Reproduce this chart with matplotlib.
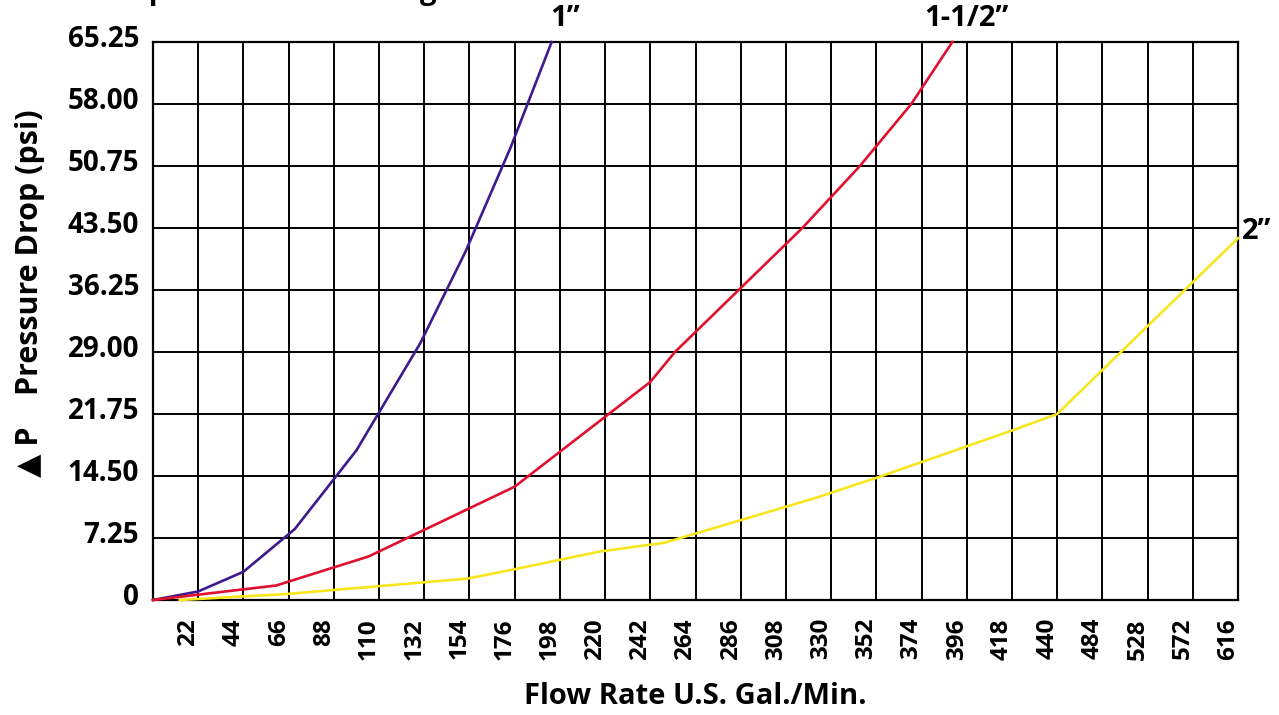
import numpy as np
import matplotlib
matplotlib.use("Agg")
import matplotlib.pyplot as plt
from matplotlib.transforms import ScaledTranslation

# ---- data ----
x_ticks = [22, 44, 66, 88, 110, 132, 154, 176, 198, 220, 242, 264, 286, 308,
           330, 352, 374, 396, 418, 440, 484, 528, 572, 616]
y_ticks = [0, 7.25, 14.50, 21.75, 29.00, 36.25, 43.50, 50.75, 58.00, 65.25]
y_ticklabels = ["0", "7.25", "14.50", "21.75", "29.00", "36.25", "43.50",
                "50.75", "58.00", "65.25"]

flow_1in = [0, 22, 44, 69, 99, 130, 152, 174, 194]
psi_1in = [0, 1.0, 3.3, 8.3, 17.5, 30.0, 40.7, 52.9, 65.25]

flow_15in = [0, 60, 105, 176, 242, 254, 285, 316, 344, 369, 389]
psi_15in = [0, 1.7, 5.1, 13.25, 25.5, 29.0, 36.25, 43.5, 50.75, 58.0, 65.25]

flow_2in = [13, 65, 153, 176, 217, 249, 322, 351, 419, 440, 616]
psi_2in = [0, 0.7, 2.5, 3.6, 5.65, 6.7, 11.9, 14.2, 19.9, 21.75, 42.3]

series_labels = ["1\u201d", "1-1/2\u201d", "2\u201d"]
colors = ["#3d1a8e", "#e0102e", "#f7e61e"]

# ---- axis scale: equal spacing per gridline (22 up to 440, then 44) ----
scale_src = [0, 440, 616]
scale_dst = [0, 20, 24]

def fwd(x):
    return np.interp(x, scale_src, scale_dst)

def inv(p):
    return np.interp(p, scale_dst, scale_src)

FONT = ["Open Sans", "DejaVu Sans"]
plt.rcParams["font.family"] = FONT

W, H = 1279, 715
fig = plt.figure(figsize=(W / 100, H / 100), dpi=100)
ax = fig.add_axes([153 / W, 1 - 600 / H, (1238 - 153) / W, (600 - 42) / H])

ax.set_xscale("function", functions=(fwd, inv))
ax.set_xlim(0, 616)
ax.set_ylim(0, 65.25)

ax.plot(flow_1in, psi_1in, color=colors[0], lw=1.9, zorder=3, clip_on=False)
ax.plot(flow_15in, psi_15in, color=colors[1], lw=1.9, zorder=3, clip_on=False)
ax.plot(flow_2in, psi_2in, color=colors[2], lw=1.9, zorder=3, clip_on=False)

ax.set_xticks(x_ticks)
ax.set_xticklabels([str(v) for v in x_ticks], rotation=90, fontsize=17.5,
                   fontweight="bold", va="top")
ax.set_yticks(y_ticks)
ax.set_yticklabels(y_ticklabels, fontsize=20, fontweight="bold")
ax.tick_params(axis="both", length=0)
ax.tick_params(axis="x", pad=13)
ax.tick_params(axis="y", pad=10)

for lab in ax.get_xticklabels():
    lab.set_transform(lab.get_transform() + ScaledTranslation(-10 / 100, 0, fig.dpi_scale_trans))
for lab in ax.get_yticklabels():
    lab.set_transform(lab.get_transform() + ScaledTranslation(0, 6 / 100, fig.dpi_scale_trans))

ax.grid(True, color="black", lw=1.4)
ax.set_axisbelow(True)
for s in ax.spines.values():
    s.set_color("black")
    s.set_linewidth(1.6)

# axis titles
fig.text(695 / W, 1 - 696 / H, "Flow Rate U.S. Gal./Min.", ha="center", va="center",
         fontsize=21, fontweight="bold")
fig.text(30 / W, 1 - 293 / H, "\u25B2 P    Pressure Drop (psi)", ha="center", va="center",
         rotation=90, fontsize=22, fontweight="bold", family=FONT)

# series labels
fig.text(565 / W, 1 - 19 / H, series_labels[0], ha="center", va="center",
         fontsize=21, fontweight="bold")
fig.text(966 / W, 1 - 19 / H, series_labels[1], ha="center", va="center",
         fontsize=21, fontweight="bold")
fig.text(1242 / W, 1 - 232 / H, series_labels[2], ha="left", va="center",
         fontsize=21, fontweight="bold")

# title, mostly cut off by the top edge (only descenders visible)
fig.text(95 / W, 1 + 1 / H, "Simplex Strainer Rating", ha="left", va="baseline",
         fontsize=21, fontweight="bold")

fig.savefig("out.png", dpi=100, facecolor="white")
